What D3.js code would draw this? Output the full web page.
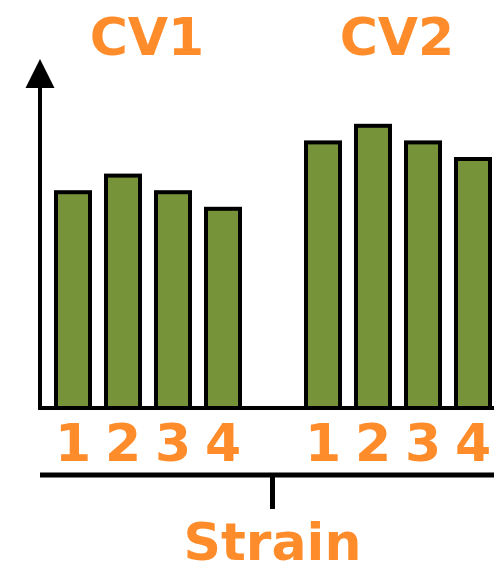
<!DOCTYPE html>
<html><head><meta charset="utf-8">
<script src="https://cdn.jsdelivr.net/npm/d3@7"></script>
<style>html,body{margin:0;padding:0;background:#fff;}svg{display:block;}</style>
</head><body>
<svg id="chart" width="494" height="563"></svg>
<script>
const groups = ["CV1", "CV2"];
const strains = ["1", "2", "3", "4"];
const cv1Values = [13, 14, 13, 12];
const cv2Values = [16, 17, 16, 15];
const axisTitle = "Strain";

const seriesValues = [cv1Values, cv2Values];
const data = [];
groups.forEach((g, gi) => strains.forEach((s, si) => data.push({group: g, strain: s, value: seriesValues[gi][si]})));

const orange = "#ff8c2a";
const green = "#77933a";
const svg = d3.select("#chart");

const baseY = 408;
const y = d3.scaleLinear().domain([0, 20]).range([baseY, 76]);
const xGroup = d3.scaleBand().domain(groups).range([48, 498]).paddingInner(0.2).paddingOuter(0);
const xStrain = d3.scaleBand().domain(strains).range([0, xGroup.bandwidth()]).paddingInner(0.32).paddingOuter(0.16);

// bars
svg.append("g").selectAll("rect").data(data).join("rect")
  .attr("x", d => xGroup(d.group) + xStrain(d.strain))
  .attr("y", d => y(d.value))
  .attr("width", xStrain.bandwidth())
  .attr("height", d => baseY - y(d.value))
  .attr("fill", green)
  .attr("stroke", "#000")
  .attr("stroke-width", 4);

// axes lines
svg.append("line").attr("x1", 38).attr("x2", 494).attr("y1", baseY).attr("y2", baseY)
  .attr("stroke", "#000").attr("stroke-width", 4);
svg.append("line").attr("x1", 40).attr("x2", 40).attr("y1", baseY + 2).attr("y2", 86)
  .attr("stroke", "#000").attr("stroke-width", 4);
svg.append("path").attr("d", "M25.5,88 L40,59 L54.5,88 Z").attr("fill", "#000");

// group titles
svg.append("g").selectAll("text").data(groups).join("text")
  .attr("x", d => xGroup(d) + xGroup.bandwidth() / 2 - 1)
  .attr("y", 55)
  .attr("text-anchor", "middle")
  .attr("font-family", "DejaVu Sans")
  .attr("font-weight", "bold")
  .attr("font-size", 52)
  .attr("fill", orange)
  .text(d => d);

// strain labels
svg.append("g").selectAll("text").data(data).join("text")
  .attr("x", d => xGroup(d.group) + xStrain(d.strain) + xStrain.bandwidth() / 2)
  .attr("y", 461)
  .attr("text-anchor", "middle")
  .attr("font-family", "DejaVu Sans")
  .attr("font-weight", "bold")
  .attr("font-size", 52)
  .attr("fill", orange)
  .text(d => d.strain);

// bracket
svg.append("line").attr("x1", 40).attr("x2", 494).attr("y1", 475).attr("y2", 475)
  .attr("stroke", "#000").attr("stroke-width", 5);
svg.append("line").attr("x1", 272.5).attr("x2", 272.5).attr("y1", 475).attr("y2", 509)
  .attr("stroke", "#000").attr("stroke-width", 5);

svg.append("text")
  .attr("x", 272.5).attr("y", 560)
  .attr("text-anchor", "middle")
  .attr("font-family", "DejaVu Sans")
  .attr("font-weight", "bold")
  .attr("font-size", 52)
  .attr("fill", orange)
  .text(axisTitle);
</script>
</body></html>
